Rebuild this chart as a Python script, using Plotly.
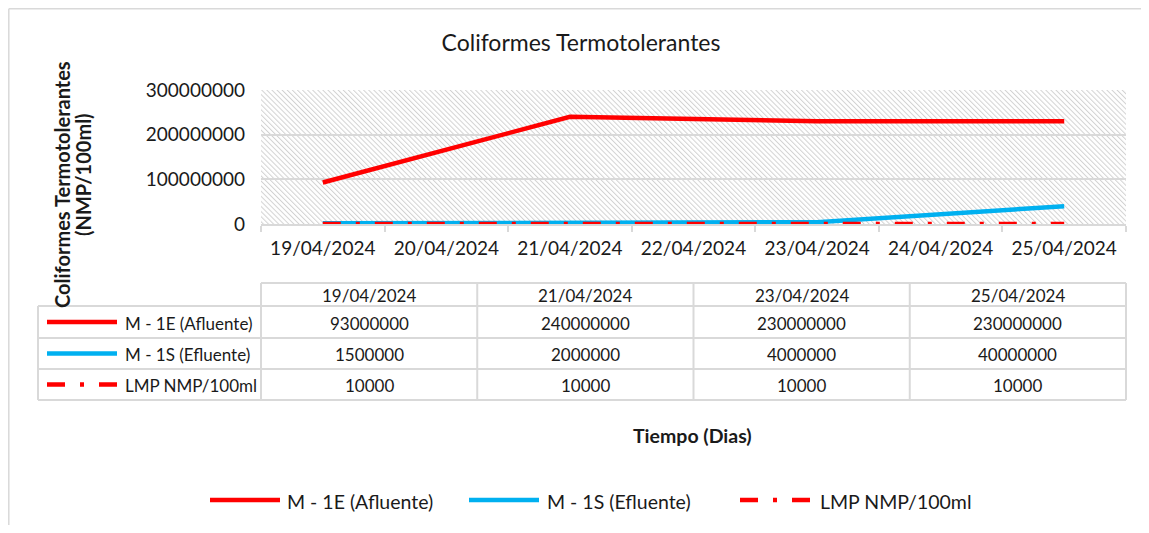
import base64
import plotly.graph_objects as go

# ---------------- data ----------------
all_dates = ["19/04/2024", "20/04/2024", "21/04/2024", "22/04/2024",
             "23/04/2024", "24/04/2024", "25/04/2024"]
sample_dates = ["19/04/2024", "21/04/2024", "23/04/2024", "25/04/2024"]
afluente = [93000000, 240000000, 230000000, 230000000]
efluente = [1500000, 2000000, 4000000, 40000000]
lmp = [10000, 10000, 10000, 10000]
series_names = ["M - 1E (Afluente)", "M - 1S (Efluente)", "LMP NMP/100ml"]
y_ticks = [0, 100000000, 200000000, 300000000]

title_text = "Coliformes Termotolerantes"
ytitle_lines = ["<b>Coliformes Termotolerantes</b>", "<b>(NMP/100ml)</b>"]
xtitle_text = "<b>Tiempo (Dias)</b>"

# ---------------- styles ----------------
FONT = "Lato"
RED = "#FF0000"
BLUE = "#00B0F0"
GRID = "#D9D9D9"
TXT = "#1A1A1A"
LMP_DASH = "18px,15px,4px,15px"
styles = [dict(color=RED, width=4.5, dash="solid"),
          dict(color=BLUE, width=4.5, dash="solid"),
          dict(color=RED, width=4.5, dash=LMP_DASH)]

# screen geometry (page has an 8px body margin)
OFF = 8
SW, SH = 1149, 533
W, H = SW - 2 * OFF, SH - 2 * OFF
L, R, T, B = 261, 1126, 90, 224          # plot area in screen pixels
PW, PH = R - L, B - T


def px(x):
    return (x - L) / PW


def py(y):
    return (B - y) / PH


fig = go.Figure()
for name, vals, st in zip(series_names, [afluente, efluente, lmp], styles):
    fig.add_trace(go.Scatter(x=sample_dates, y=vals, mode="lines", name=name,
                             line=st, showlegend=False))

# hatched plot background
svg = (f'<svg xmlns="http://www.w3.org/2000/svg" width="{PW}" height="{PH}" '
       f'viewBox="0 0 {PW} {PH}">'
       '<defs><pattern id="h" width="3.6" height="10" patternUnits="userSpaceOnUse" '
       'patternTransform="rotate(-45)">'
       '<rect x="0" y="0" width="1.0" height="10" fill="#D2D2D2"/></pattern></defs>'
       f'<rect width="{PW}" height="{PH}" fill="url(#h)"/></svg>')
src = "data:image/svg+xml;base64," + base64.b64encode(svg.encode()).decode()
fig.add_layout_image(dict(source=src, xref="paper", yref="paper", x=0, y=1,
                          sizex=1, sizey=1, sizing="stretch", layer="below",
                          xanchor="left", yanchor="top"))

shapes = []
annos = []


def hline(x0, x1, y, color=GRID, width=2, dash="solid"):
    shapes.append(dict(type="line", xref="paper", yref="paper", x0=px(x0), x1=px(x1),
                       y0=py(y), y1=py(y), line=dict(color=color, width=width, dash=dash)))


def vline(x, y0, y1, color=GRID, width=2):
    shapes.append(dict(type="line", xref="paper", yref="paper", x0=px(x), x1=px(x),
                       y0=py(y0), y1=py(y1), line=dict(color=color, width=width)))


def text(x, y, s, size=17, xanchor="center", color=TXT, **kw):
    annos.append(dict(xref="paper", yref="paper", x=px(x), y=py(y), text=s,
                      showarrow=False, xanchor=xanchor, yanchor="middle",
                      font=dict(family=FONT, size=size, color=color), **kw))


# ---------------- data table ----------------
tb_top, tb_bot = 283, 400
row_y = [306, 338, 369, 400]
leg_left = 38
ncol = len(sample_dates)
col_edges = [L + i * PW / ncol for i in range(ncol + 1)]
hline(L, R, tb_top)
for yy in row_y:
    hline(leg_left, R, yy)
vline(leg_left, row_y[0], tb_bot)
for xe in col_edges:
    vline(xe, tb_top, tb_bot)

for i, d in enumerate(sample_dates):
    cx = (col_edges[i] + col_edges[i + 1]) / 2
    text(cx, (tb_top + row_y[0]) / 2 + 1, d)
    for r, vals in enumerate([afluente, efluente, lmp]):
        text(cx, (row_y[r] + row_y[r + 1]) / 2 + 1, str(vals[i]))

for r, (name, st) in enumerate(zip(series_names, styles)):
    yc = (row_y[r] + row_y[r + 1]) / 2
    hline(47, 117, yc, color=st["color"], width=4.5, dash=st["dash"])
    text(123, yc + 1, name, xanchor="left")

# ---------------- bottom legend ----------------
leg_y = 500
leg_items = [(210, 285), (469, 545), (740, 818)]
for (lx, tx), name, st in zip(leg_items, series_names, styles):
    hline(lx, lx + 70, leg_y, color=st["color"], width=4.5, dash=st["dash"])
    text(tx, leg_y + 1, name, size=19.5, xanchor="left")

# axis titles
text(62, 185, ytitle_lines[0], size=20, textangle=-90)
text(83, 175, ytitle_lines[1], size=20, textangle=-90)
text(692, 436, xtitle_text, size=19.5)

# outer chart border (top and left edges visible)
shapes.append(dict(type="line", xref="paper", yref="paper", x0=px(OFF + 0.8), x1=px(SW + 20),
                   y0=py(OFF + 0.8), y1=py(OFF + 0.8), line=dict(color=GRID, width=1.5)))
shapes.append(dict(type="line", xref="paper", yref="paper", x0=px(OFF + 0.8), x1=px(OFF + 0.8),
                   y0=py(OFF + 0.8), y1=py(SH + 20), line=dict(color=GRID, width=1.5)))

fig.update_layout(
    width=W, height=H,
    margin=dict(l=L - OFF, r=(W + OFF) - R, t=T - OFF, b=(H + OFF) - B),
    paper_bgcolor="white", plot_bgcolor="rgba(0,0,0,0)",
    font=dict(family=FONT, color=TXT),
    title=dict(text=title_text, x=(581 - OFF) / W, xanchor="center", xref="container",
               y=1 - (43 - OFF) / H, yanchor="middle", yref="container",
               font=dict(family=FONT, size=23, color=TXT)),
    shapes=shapes, annotations=annos,
    showlegend=False,
    xaxis=dict(type="category", categoryorder="array", categoryarray=all_dates,
               range=[-0.5, len(all_dates) - 0.5], tickson="boundaries",
               ticks="outside", ticklen=6, tickwidth=2, tickcolor=GRID,
               showline=True, linecolor=GRID, linewidth=2, showgrid=False,
               ticklabelstandoff=6,
               tickfont=dict(family=FONT, size=19, color=TXT), fixedrange=True),
    yaxis=dict(range=[0, 300000000], tickvals=y_ticks, tickformat="d",
               showgrid=True, gridcolor=GRID, gridwidth=1.5, zeroline=False,
               showline=False, ticks="", ticklabelstandoff=15,
               tickfont=dict(family=FONT, size=19, color=TXT), fixedrange=True),
)

fig.write_html("out.html")
